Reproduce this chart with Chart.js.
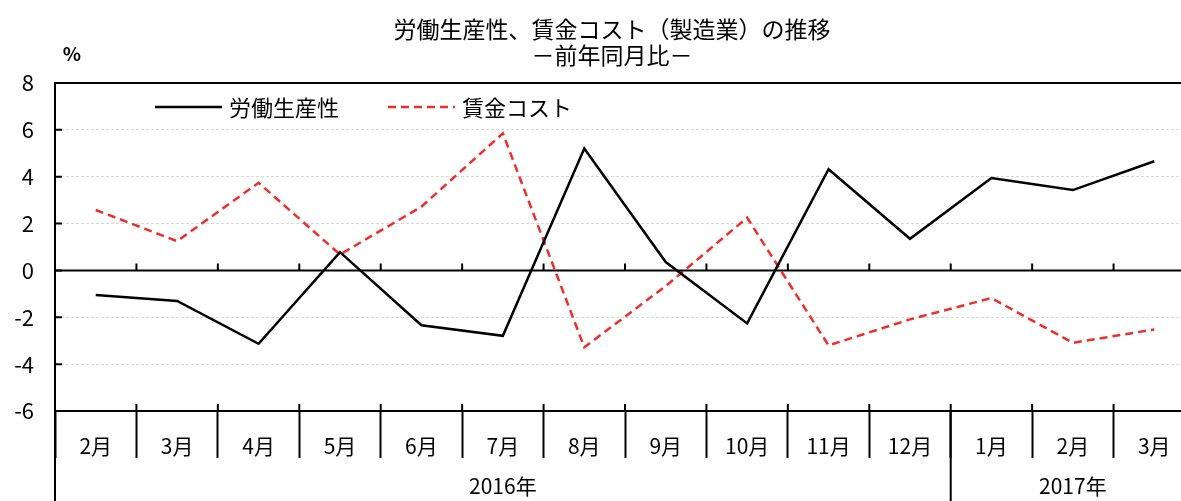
<!DOCTYPE html>
<html>
<head>
<meta charset="utf-8">
<script src="https://cdn.jsdelivr.net/npm/chart.js@4"></script>
<style>
  html, body { margin: 0; padding: 0; background: #fff; overflow: hidden; }
  #wrap { width: 1195px; height: 501px; }
</style>
</head>
<body>
<div id="wrap"><canvas id="myChart"></canvas></div>
<script>
// month labels, two year groups
const months = ['2月', '3月', '4月', '5月', '6月', '7月', '8月', '9月', '10月', '11月', '12月', '1月', '2月', '3月'];
const years = ['2016年', '2017年'];
const yearSpans = [11, 3];

// % change, year on year
const productivity = [-1.05, -1.3, -3.13, 0.78, -2.34, -2.79, 5.2, 0.36, -2.26, 4.32, 1.35, 3.94, 3.43, 4.66];
const wageCost = [2.58, 1.25, 3.74, 0.68, 2.72, 5.85, -3.28, -0.67, 2.25, -3.2, -2.09, -1.18, -3.09, -2.52];

const yTicks = [-6, -4, -2, 0, 2, 4, 6, 8];

const titleLines = ['労働生産性、賃金コスト（製造業）の推移', '－前年同月比－'];
const unitLabel = '%';

const FONT = "'Liberation Sans Narrow', 'Noto Sans CJK JP', sans-serif";
const CJK = "'Noto Sans CJK JP', sans-serif";

// extra drawing: frame, zero line, inner ticks, year row, legend, titles
const decorations = {
    id: 'decorations',
    afterDraw(chart) {
        const ctx = chart.ctx;
        const area = chart.chartArea;
        const x = chart.scales.x;
        const y = chart.scales.y;
        const H = chart.height;
        const half = (x.getPixelForValue(1) - x.getPixelForValue(0)) / 2;
        const y0 = y.getPixelForValue(0);

        ctx.save();
        ctx.strokeStyle = '#000';
        ctx.lineWidth = 2;

        // top border and zero line
        ctx.beginPath();
        ctx.moveTo(area.left, area.top);
        ctx.lineTo(area.right + 5, area.top);
        ctx.moveTo(area.left, y0);
        ctx.lineTo(area.right + 5, y0);
        ctx.stroke();

        // inward ticks on value axis
        ctx.beginPath();
        yTicks.forEach(v => {
            const py = y.getPixelForValue(v);
            ctx.moveTo(area.left, py);
            ctx.lineTo(area.left + 7, py);
        });
        ctx.stroke();

        // upward ticks at category boundaries, on zero line and bottom line
        ctx.beginPath();
        for (let i = 1; i < months.length; i++) {
            const px = x.getPixelForValue(i) - half;
            ctx.moveTo(px, y0);
            ctx.lineTo(px, y0 - 7);
            ctx.moveTo(px, area.bottom);
            ctx.lineTo(px, area.bottom - 7);
        }
        ctx.stroke();

        // year row separators
        ctx.beginPath();
        ctx.moveTo(area.left, area.bottom);
        ctx.lineTo(area.left, H);
        let idx = 0;
        const centers = [];
        yearSpans.forEach((n, k) => {
            const a = x.getPixelForValue(idx) - half;
            const b = x.getPixelForValue(idx + n - 1) + half;
            centers.push((a + b) / 2);
            if (k > 0) {
                ctx.moveTo(a, area.bottom);
                ctx.lineTo(a, H);
            }
            idx += n;
        });
        ctx.stroke();

        ctx.fillStyle = '#000';
        ctx.textAlign = 'center';
        ctx.textBaseline = 'middle';
        ctx.font = '21px ' + FONT;
        years.forEach((t, k) => ctx.fillText(t, centers[k], 486));

        // titles
        ctx.font = '23px ' + CJK;
        ctx.fillText(titleLines[0], 612, 29);
        ctx.fillText(titleLines[1], 612, 55);
        ctx.font = 'bold 19px ' + FONT;
        ctx.fillText(unitLabel, 72, 54);

        // legend
        const ly = 107;
        const items = [[155, chart.data.datasets[0]], [388, chart.data.datasets[1]]];
        ctx.textAlign = 'left';
        ctx.font = '22px ' + CJK;
        items.forEach(([lx, ds]) => {
            ctx.strokeStyle = ds.borderColor;
            ctx.lineWidth = ds.borderWidth;
            ctx.setLineDash(ds.borderDash || []);
            ctx.beginPath();
            ctx.moveTo(lx, ly);
            ctx.lineTo(lx + 67, ly);
            ctx.stroke();
            ctx.setLineDash([]);
            ctx.fillText(ds.label, lx + 74, ly + 1);
        });
        ctx.restore();
    }
};

const config = {
    type: 'line',
    data: {
        labels: months,
        datasets: [{
            label: '労働生産性',
            data: productivity,
            borderColor: '#000000',
            borderWidth: 2.5,
            pointRadius: 0,
            tension: 0
        }, {
            label: '賃金コスト',
            data: wageCost,
            borderColor: '#f02c2c',
            borderWidth: 2.5,
            borderDash: [8, 5],
            pointRadius: 0,
            tension: 0
        }]
    },
    options: {
        responsive: true,
        maintainAspectRatio: false,
        animation: false,
        layout: { padding: { top: 83, left: 0, right: 0, bottom: 0 } },
        plugins: {
            legend: { display: false },
            title: { display: false },
            tooltip: { enabled: false }
        },
        scales: {
            x: {
                type: 'category',
                offset: true,
                afterFit: scale => { scale.height = 90; },
                grid: {
                    offset: true,
                    drawOnChartArea: false,
                    drawTicks: true,
                    tickLength: 47,
                    tickColor: '#000',
                    tickWidth: 2
                },
                border: { display: true, color: '#000', width: 2 },
                ticks: {
                    color: '#000',
                    font: { family: FONT, size: 21 },
                    padding: -25,
                    maxRotation: 0,
                    autoSkip: false
                }
            },
            y: {
                min: -6,
                max: 8,
                afterFit: scale => { scale.width = 55; },
                afterBuildTicks: scale => { scale.ticks = yTicks.map(v => ({ value: v })); },
                grid: {
                    drawTicks: false,
                    color: ctx => {
                        const v = ctx.tick && ctx.tick.value;
                        return (v === 0 || v === 8 || v === -6) ? 'rgba(0,0,0,0)' : '#d9d9d9';
                    },
                    lineWidth: 1
                },
                border: { display: true, color: '#000', width: 2, dash: [3, 2] },
                ticks: {
                    color: '#000',
                    font: { family: FONT, size: 22 },
                    padding: 21
                }
            }
        }
    },
    plugins: [decorations]
};

const myChart = new Chart(document.getElementById('myChart'), config);
</script>
</body>
</html>
